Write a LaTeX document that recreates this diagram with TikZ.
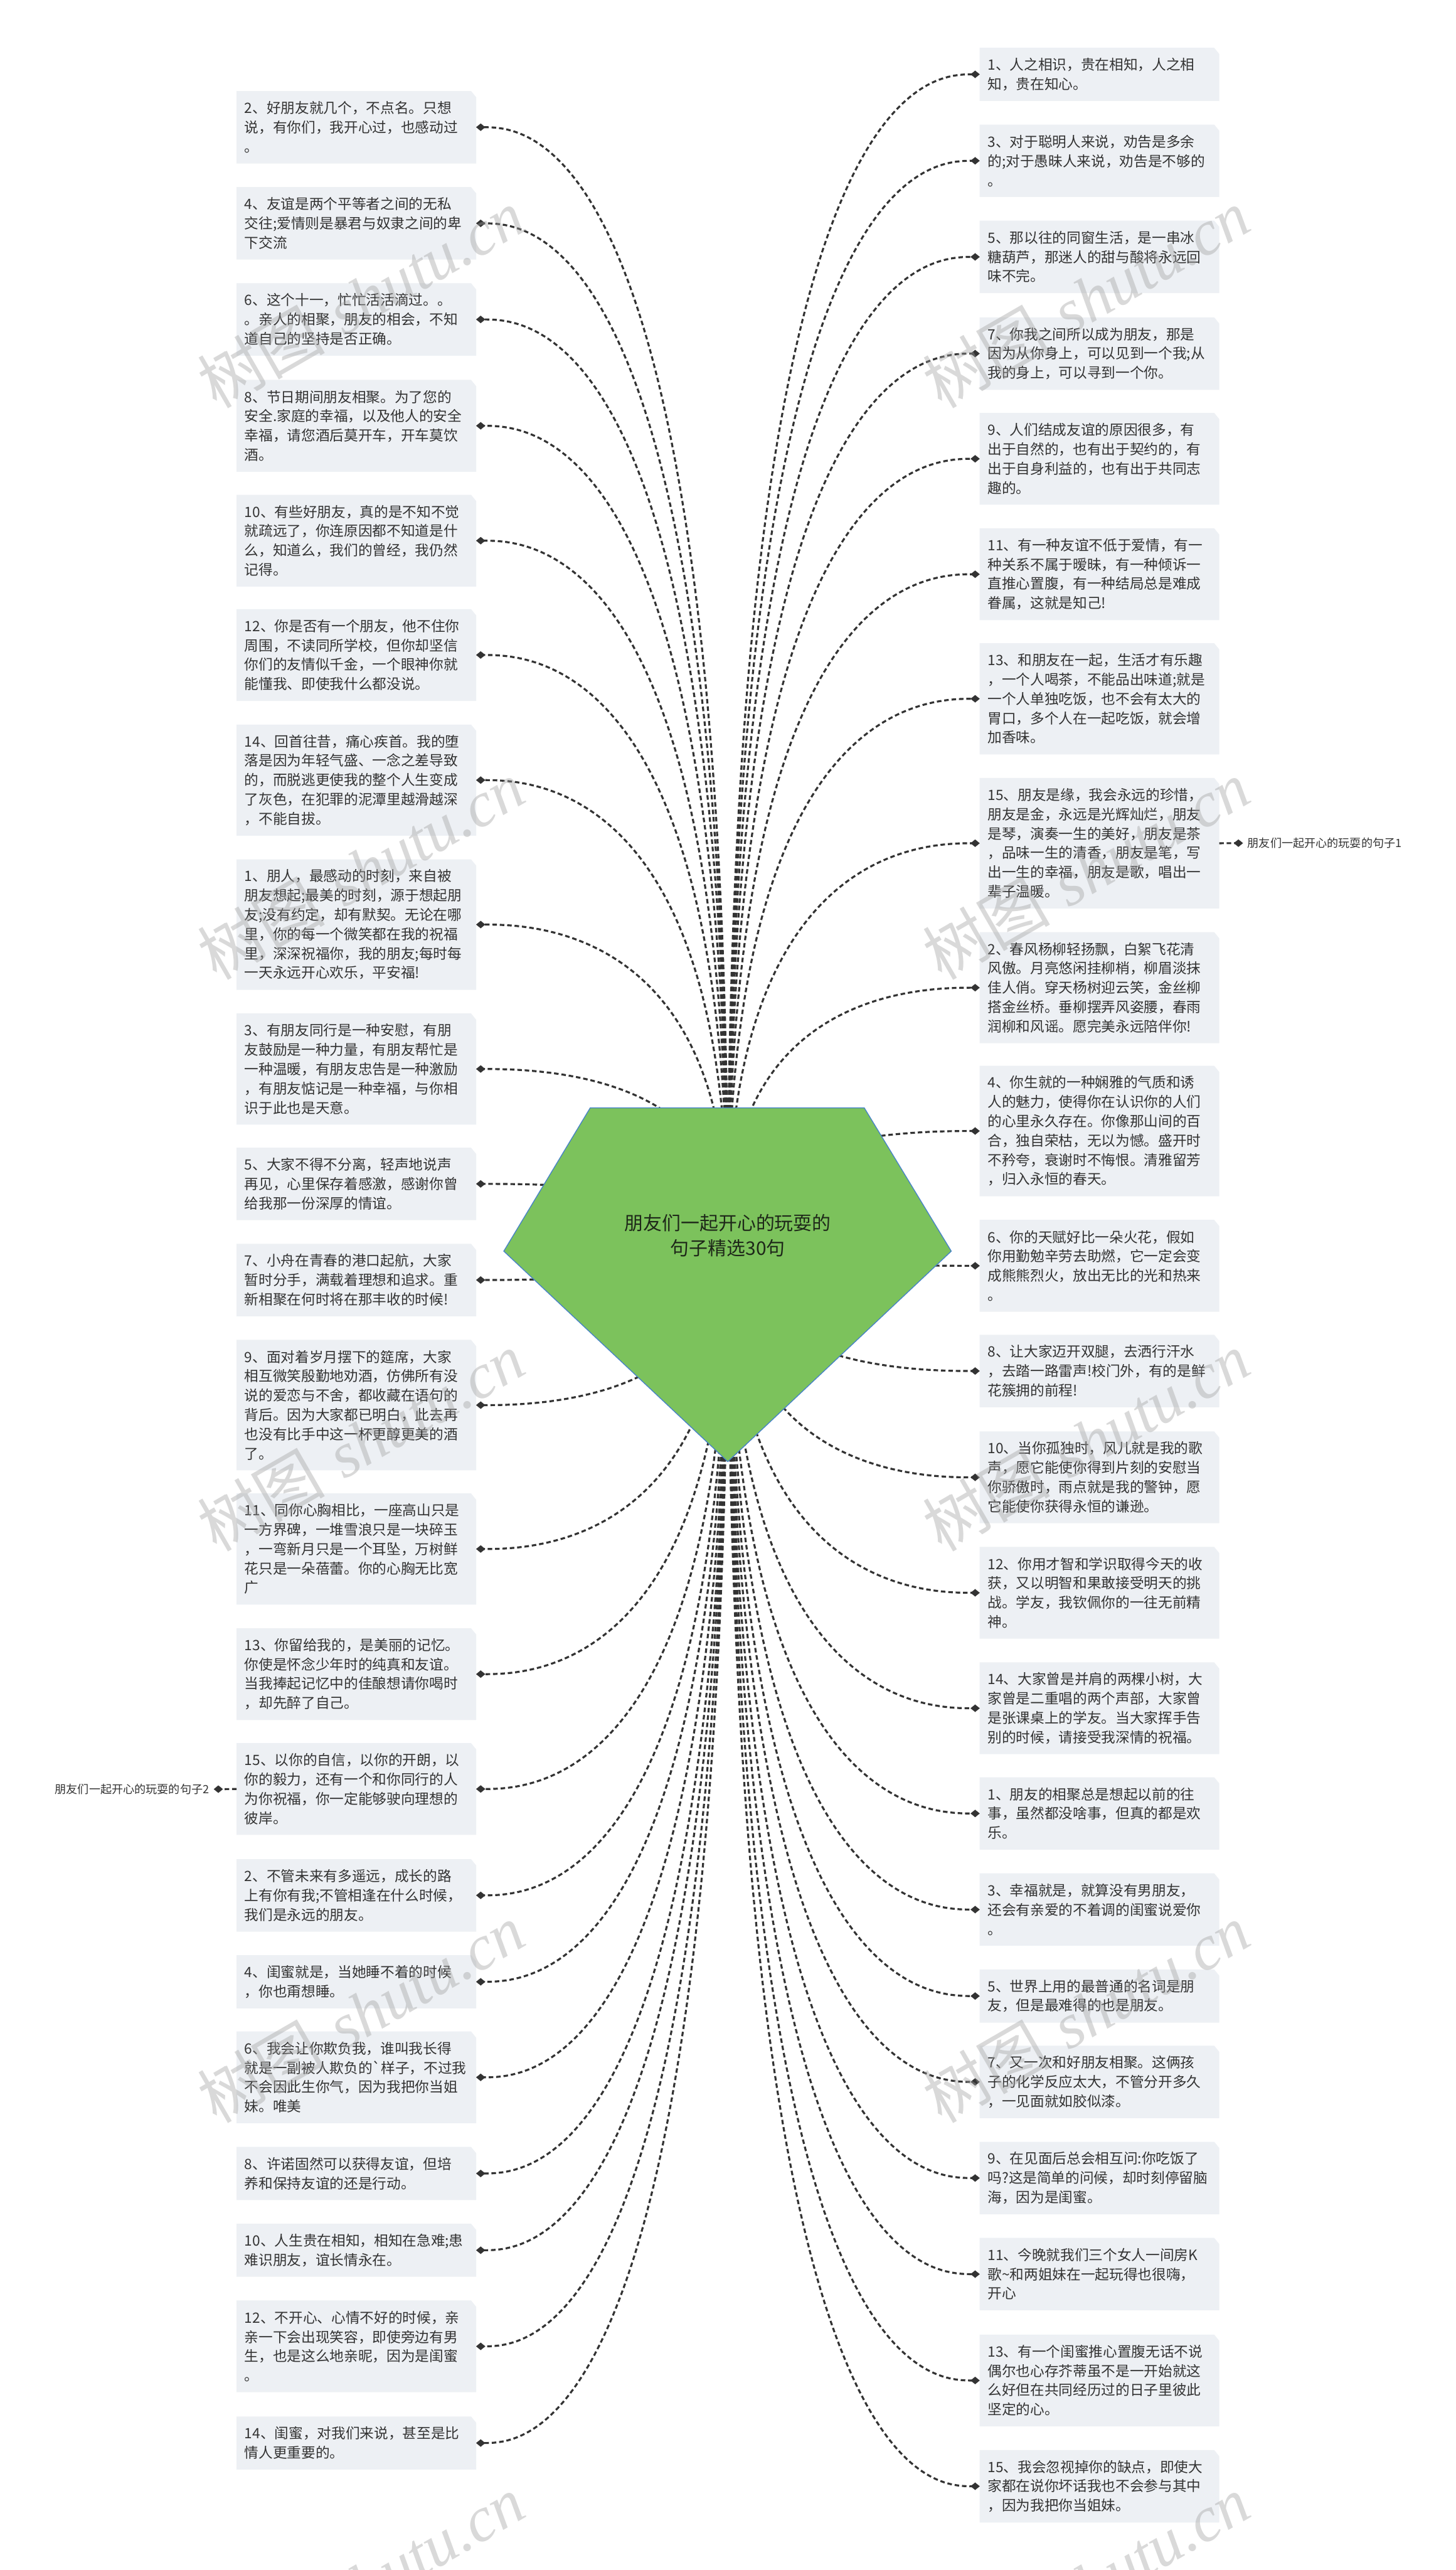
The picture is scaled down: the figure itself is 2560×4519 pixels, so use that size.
\documentclass[tikz,border=0pt]{standalone}
\usepackage{fontspec}
\newfontfamily\cjk{Noto Sans CJK SC}
\newfontfamily\wmserif{Liberation Serif}
\usetikzlibrary{arrows.meta}
\pgfdeclarelayer{bg}\pgfdeclarelayer{edges}\pgfdeclarelayer{wm}
\pgfsetlayers{bg,edges,main,wm}
\definecolor{boxfill}{RGB}{237,240,244}
\definecolor{txt}{RGB}{51,51,51}
\definecolor{edgec}{RGB}{51,51,51}
\definecolor{rootfill}{RGB}{124,194,92}
\definecolor{rootline}{RGB}{70,130,200}
\definecolor{roottxt}{RGB}{30,40,25}
\definecolor{wmc}{RGB}{160,160,160}
\tikzset{
 leafbox/.style={rectangle, inner xsep=14pt, inner ysep=0pt, text width=393pt, align=left, anchor=north west, font=\cjk\fontsize{25}{34}\selectfont, text=txt},
 conn/.style={draw=edgec, line width=3.5pt, dash pattern=on 8pt off 5pt, -{Diamond[length=16pt,width=13pt,line width=0.1pt]}},
 sidelabel/.style={font=\cjk\fontsize{20}{24}\selectfont, text=txt, inner xsep=8pt, inner ysep=2pt},
 wmark/.style={rotate=30, text=wmc, opacity=0.4, font=\fontsize{112}{120}\selectfont}
}
\newcommand{\lbx}[4]{\node[leafbox, minimum height=#3pt] (#1) at (416,#2) {#4};}
\newcommand{\rbx}[4]{\node[leafbox, minimum height=#3pt] (#1) at (1723,#2) {#4};}
\begin{document}
\begin{tikzpicture}[x=1pt,y=-1pt]
\begin{pgfonlayer}{bg}
\fill[white] (0,0) rectangle (2560,4519);
\end{pgfonlayer}
\useasboundingbox (0,0) rectangle (2560,4519);
% root
\filldraw[fill=rootfill, draw=rootline, line width=1.5pt] (1038,1948) -- (1520,1948) -- (1673,2200) -- (1280,2570) -- (886,2200) -- cycle;
\node[font=\cjk\fontsize{33}{44}\selectfont, align=center, text=roottxt] (root) at (1280,2172) {朋友们一起开心的玩耍的\\句子精选30句};
% left boxes
\lbx{L1}{160}{127}{2、好朋友就几个，不点名。只想\\说，有你们，我开心过，也感动过\\。}
\lbx{L2}{329}{127}{4、友谊是两个平等者之间的无私\\交往;爱情则是暴君与奴隶之间的卑\\下交流}
\lbx{L3}{498}{127}{6、这个十一，忙忙活活滴过。。\\。亲人的相聚，朋友的相会，不知\\道自己的坚持是否正确。}
\lbx{L4}{668}{161}{8、节日期间朋友相聚。为了您的\\安全.家庭的幸福，以及他人的安全\\幸福，请您酒后莫开车，开车莫饮\\酒。}
\lbx{L5}{870}{161}{10、有些好朋友，真的是不知不觉\\就疏远了，你连原因都不知道是什\\么，知道么，我们的曾经，我仍然\\记得。}
\lbx{L6}{1071}{161}{12、你是否有一个朋友，他不住你\\周围，不读同所学校，但你却坚信\\你们的友情似千金，一个眼神你就\\能懂我、即使我什么都没说。}
\lbx{L7}{1274}{195}{14、回首往昔，痛心疾首。我的堕\\落是因为年轻气盛、一念之差导致\\的，而脱逃更使我的整个人生变成\\了灰色，在犯罪的泥潭里越滑越深\\，不能自拔。}
\lbx{L8}{1511}{229}{1、朋人，最感动的时刻，来自被\\朋友想起;最美的时刻，源于想起朋\\友;没有约定，却有默契。无论在哪\\里，你的每一个微笑都在我的祝福\\里，深深祝福你，我的朋友;每时每\\一天永远开心欢乐，平安福!}
\lbx{L9}{1782}{195}{3、有朋友同行是一种安慰，有朋\\友鼓励是一种力量，有朋友帮忙是\\一种温暖，有朋友忠告是一种激励\\，有朋友惦记是一种幸福，与你相\\识于此也是天意。}
\lbx{L10}{2018}{127}{5、大家不得不分离，轻声地说声\\再见，心里保存着感激，感谢你曾\\给我那一份深厚的情谊。}
\lbx{L11}{2187}{127}{7、小舟在青春的港口起航，大家\\暂时分手，满载着理想和追求。重\\新相聚在何时将在那丰收的时候!}
\lbx{L12}{2356}{229}{9、面对着岁月摆下的筵席，大家\\相互微笑殷勤地劝酒，仿佛所有没\\说的爱恋与不舍，都收藏在语句的\\背后。因为大家都已明白，此去再\\也没有比手中这一杯更醇更美的酒\\了。}
\lbx{L13}{2626}{195}{11、同你心胸相比，一座高山只是\\一方界碑，一堆雪浪只是一块碎玉\\，一弯新月只是一个耳坠，万树鲜\\花只是一朵蓓蕾。你的心胸无比宽\\广}
\lbx{L14}{2863}{161}{13、你留给我的，是美丽的记忆。\\你使是怀念少年时的纯真和友谊。\\当我捧起记忆中的佳酿想请你喝时\\，却先醉了自己。}
\lbx{L15}{3065}{161}{15、以你的自信，以你的开朗，以\\你的毅力，还有一个和你同行的人\\为你祝福，你一定能够驶向理想的\\彼岸。}
\lbx{L16}{3269}{127}{2、不管未来有多遥远，成长的路\\上有你有我;不管相逢在什么时候，\\我们是永远的朋友。}
\lbx{L17}{3438}{93}{4、闺蜜就是，当她睡不着的时候\\，你也甭想睡。}
\lbx{L18}{3572}{161}{6、我会让你欺负我，谁叫我长得\\就是一副被人欺负的`样子，不过我\\不会因此生你气，因为我把你当姐\\妹。唯美}
\lbx{L19}{3775}{93}{8、许诺固然可以获得友谊，但培\\养和保持友谊的还是行动。}
\lbx{L20}{3910}{93}{10、人生贵在相知，相知在急难;患\\难识朋友，谊长情永在。}
\lbx{L21}{4045}{161}{12、不开心、心情不好的时候，亲\\亲一下会出现笑容，即使旁边有男\\生，也是这么地亲昵，因为是闺蜜\\。}
\lbx{L22}{4249}{93}{14、闺蜜，对我们来说，甚至是比\\情人更重要的。}
% right boxes
\rbx{R1}{84}{93}{1、人之相识，贵在相知，人之相\\知，贵在知心。}
\rbx{R2}{219}{127}{3、对于聪明人来说，劝告是多余\\的;对于愚昧人来说，劝告是不够的\\。}
\rbx{R3}{388}{127}{5、那以往的同窗生活，是一串冰\\糖葫芦，那迷人的甜与酸将永远回\\味不完。}
\rbx{R4}{558}{127}{7、你我之间所以成为朋友，那是\\因为从你身上，可以见到一个我;从\\我的身上，可以寻到一个你。}
\rbx{R5}{726}{161}{9、人们结成友谊的原因很多，有\\出于自然的，也有出于契约的，有\\出于自身利益的，也有出于共同志\\趣的。}
\rbx{R6}{929}{161}{11、有一种友谊不低于爱情，有一\\种关系不属于暧昧，有一种倾诉一\\直推心置腹，有一种结局总是难成\\眷属，这就是知己!}
\rbx{R7}{1131}{195}{13、和朋友在一起，生活才有乐趣\\，一个人喝茶，不能品出味道;就是\\一个人单独吃饭，也不会有太大的\\胃口，多个人在一起吃饭，就会增\\加香味。}
\rbx{R8}{1368}{229}{15、朋友是缘，我会永远的珍惜，\\朋友是金，永远是光辉灿烂，朋友\\是琴，演奏一生的美好，朋友是茶\\，品味一生的清香，朋友是笔，写\\出一生的幸福，朋友是歌，唱出一\\辈子温暖。}
\rbx{R9}{1639}{195}{2、春风杨柳轻扬飘，白絮飞花清\\风傲。月亮悠闲挂柳梢，柳眉淡抹\\佳人俏。穿天杨树迎云笑，金丝柳\\搭金丝桥。垂柳摆弄风姿腰，春雨\\润柳和风谣。愿完美永远陪伴你!}
\rbx{R10}{1874}{229}{4、你生就的一种娴雅的气质和诱\\人的魅力，使得你在认识你的人们\\的心里永久存在。你像那山间的百\\合，独自荣枯，无以为憾。盛开时\\不矜夸，衰谢时不悔恨。清雅留芳\\，归入永恒的春天。}
\rbx{R11}{2145}{161}{6、你的天赋好比一朵火花，假如\\你用勤勉辛劳去助燃，它一定会变\\成熊熊烈火，放出无比的光和热来\\。}
\rbx{R12}{2347}{127}{8、让大家迈开双腿，去洒行汗水\\，去踏一路雷声!校门外，有的是鲜\\花簇拥的前程!}
\rbx{R13}{2517}{161}{10、当你孤独时，风儿就是我的歌\\声，愿它能使你得到片刻的安慰当\\你骄傲时，雨点就是我的警钟，愿\\它能使你获得永恒的谦逊。}
\rbx{R14}{2720}{161}{12、你用才智和学识取得今天的收\\获，又以明智和果敢接受明天的挑\\战。学友，我钦佩你的一往无前精\\神。}
\rbx{R15}{2923}{161}{14、大家曾是并肩的两棵小树，大\\家曾是二重唱的两个声部，大家曾\\是张课桌上的学友。当大家挥手告\\别的时候，请接受我深情的祝福。}
\rbx{R16}{3125}{127}{1、朋友的相聚总是想起以前的往\\事，虽然都没啥事，但真的都是欢\\乐。}
\rbx{R17}{3294}{127}{3、幸福就是，就算没有男朋友，\\还会有亲爱的不着调的闺蜜说爱你\\。}
\rbx{R18}{3463}{93}{5、世界上用的最普通的名词是朋\\友，但是最难得的也是朋友。}
\rbx{R19}{3597}{127}{7、又一次和好朋友相聚。这俩孩\\子的化学反应太大，不管分开多久\\，一见面就如胶似漆。}
\rbx{R20}{3766}{127}{9、在见面后总会相互问:你吃饭了\\吗?这是简单的问候，却时刻停留脑\\海，因为是闺蜜。}
\rbx{R21}{3935}{127}{11、今晚就我们三个女人一间房K\\歌\textasciitilde 和两姐妹在一起玩得也很嗨，\\开心}
\rbx{R22}{4105}{161}{13、有一个闺蜜推心置腹无话不说\\偶尔也心存芥蒂虽不是一开始就这\\么好但在共同经历过的日子里彼此\\坚定的心。}
\rbx{R23}{4308}{127}{15、我会忽视掉你的缺点，即使大\\家都在说你坏话我也不会参与其中\\，因为我把你当姐妹。}
% side labels
\node[sidelabel, anchor=west] (lab1) at (2186,1482.5) {朋友们一起开心的玩耍的句子1};
\node[sidelabel, anchor=east] (lab2) at (376,3146) {朋友们一起开心的玩耍的句子2};
% box fills
\begin{pgfonlayer}{bg}
\foreach \n in {L1,L2,L3,L4,L5,L6,L7,L8,L9,L10,L11,L12,L13,L14,L15,L16,L17,L18,L19,L20,L21,L22,R1,R2,R3,R4,R5,R6,R7,R8,R9,R10,R11,R12,R13,R14,R15,R16,R17,R18,R19,R20,R21,R22,R23}{
  \fill[boxfill] (\n.north west) -- ([xshift=-9pt]\n.north east) -- ([yshift=-11pt]\n.north east) -- (\n.south east) -- (\n.south west) -- cycle;
}
\end{pgfonlayer}
% connectors
\begin{pgfonlayer}{edges}
\foreach \n in {L1,L2,L3,L4,L5,L6,L7,L8,L9,L10,L11,L12,L13,L14,L15,L16,L17,L18,L19,L20,L21,L22}{
  \draw[conn] (root.center) .. controls (root.center |- \n.east) and +(90,0) .. (\n.east);
}
\foreach \n in {R1,R2,R3,R4,R5,R6,R7,R8,R9,R10,R11,R12,R13,R14,R15,R16,R17,R18,R19,R20,R21,R22,R23}{
  \draw[conn] (root.center) .. controls (root.center |- \n.west) and +(-90,0) .. (\n.west);
}
\draw[conn] (R8.east) -- (lab1.west);
\draw[conn] (L15.west) -- (lab2.east);
\end{pgfonlayer}
% watermark
\begin{pgfonlayer}{wm}
\foreach \k/\y in {1/525,2/1530,3/2535,4/3540,5/4545}{
  \node[wmark] (wmL\k) at (635,\y) {{\cjk 树图} {\wmserif\itshape shutu.cn}};
  \node[wmark] (wmR\k) at (1910,\y) {{\cjk 树图} {\wmserif\itshape shutu.cn}};
}
\end{pgfonlayer}
\end{tikzpicture}
\end{document}
